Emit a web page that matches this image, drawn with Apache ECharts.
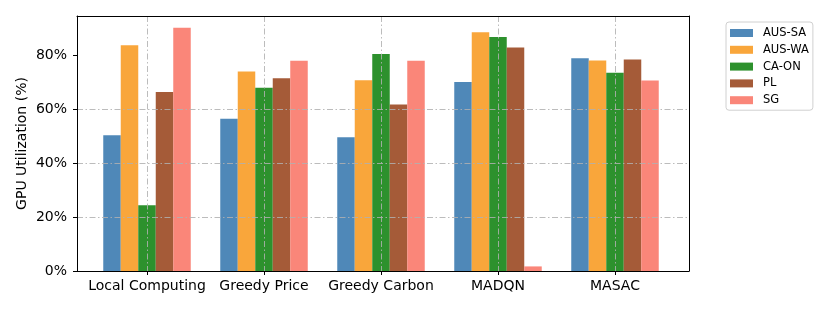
<!DOCTYPE html>
<html>
<head>
<meta charset="utf-8">
<script src="https://cdn.jsdelivr.net/npm/echarts@6/dist/echarts.min.js"></script>
<style>html,body{margin:0;padding:0;background:#fff}#c{width:830px;height:312px}</style>
</head>
<body>
<div id="c"></div>
<script>
const categories = ['Local Computing', 'Greedy Price', 'Greedy Carbon', 'MADQN', 'MASAC'];
const seriesNames = ['AUS-SA', 'AUS-WA', 'CA-ON', 'PL', 'SG'];
const ausSA = [50.3, 56.4, 49.6, 70.0, 78.8];
const ausWA = [83.7, 73.9, 70.7, 88.5, 78.0];
const caON  = [24.4, 67.9, 80.4, 86.7, 73.5];
const pl    = [66.3, 71.4, 61.7, 82.8, 78.4];
const sg    = [90.1, 77.9, 77.9, 1.7, 70.6];
const yTicks = [0, 20, 40, 60, 80];
const yMax = 94.5;

const colors = ['#4682b4', '#f9a130', '#228b22', '#a0522d', '#fa8072'];
const values = [ausSA, ausWA, caON, pl, sg];
const font = 'DejaVu Sans';
const dashStyle = {color: 'rgba(176,176,176,0.85)', width: 1, type: [6, 2.5, 1.5, 2.5]};

const chart = echarts.init(document.getElementById('c'), null, {renderer: 'canvas'});
chart.setOption({
  animation: false,
  backgroundColor: '#fff',
  textStyle: {fontFamily: font},
  grid: [
    {left: 88.5, top: 16, width: 585, height: 255, containLabel: false},
    {left: 77, top: 16, width: 612, height: 255, show: false}
  ],
  legend: {
    orient: 'vertical', left: 726, top: 22,
    data: seriesNames,
    icon: 'rect', itemWidth: 23, itemHeight: 8, itemGap: 4.8,
    padding: [5, 4, 4, 4],
    backgroundColor: '#fff', borderColor: '#d0d0d0', borderWidth: 1, borderRadius: 3,
    textStyle: {fontFamily: font, fontSize: 11.5, color: '#000', lineHeight: 12, padding: [0, 0, 0, 5]}
  },
  xAxis: [
    {
      type: 'category', gridIndex: 0, data: categories, z: 5,
      axisLine: {show: false},
      axisTick: {show: true, alignWithLabel: true, length: 4, lineStyle: {color: '#000'}},
      axisLabel: {fontFamily: font, fontSize: 14, color: '#000', margin: 8, interval: 0},
      splitLine: {show: true, alignWithLabel: true, interval: 0, lineStyle: dashStyle}
    },
    {type: 'value', gridIndex: 1, min: 0, max: 1, position: 'bottom', z: 6,
     axisLine: {show: true, onZero: false, lineStyle: {color: '#000', width: 1}},
     axisTick: {show: false}, axisLabel: {show: false}, splitLine: {show: false}},
    {type: 'value', gridIndex: 1, min: 0, max: 1, position: 'top', z: 6,
     axisLine: {show: true, onZero: false, lineStyle: {color: '#000', width: 1}},
     axisTick: {show: false}, axisLabel: {show: false}, splitLine: {show: false}}
  ],
  yAxis: [
    {type: 'value', gridIndex: 0, min: 0, max: yMax, show: false},
    {
      type: 'value', gridIndex: 1, min: 0, max: yMax, interval: 20, z: 6,
      axisLine: {show: true, onZero: false, lineStyle: {color: '#000', width: 1}},
      axisTick: {show: true, length: 4, lineStyle: {color: '#000'}, customValues: yTicks},
      axisLabel: {fontFamily: font, fontSize: 14, color: '#000', margin: 10, customValues: yTicks, formatter: v => v + '%'},
      splitLine: {show: true, showMinLine: false, showMaxLine: false, lineStyle: dashStyle},
      name: 'GPU Utilization (%)', nameLocation: 'middle', nameGap: 48, nameRotate: 90, nameMoveOverlap: false,
      nameTextStyle: {fontFamily: font, fontSize: 14, color: '#000'}
    },
    {type: 'value', gridIndex: 1, min: 0, max: yMax, position: 'right', z: 6,
     axisLine: {show: true, onZero: false, lineStyle: {color: '#000', width: 1}},
     axisTick: {show: false}, axisLabel: {show: false}, splitLine: {show: false}}
  ],
  series: seriesNames.map((n, i) => ({
    name: n, type: 'bar', xAxisIndex: 0, yAxisIndex: 0,
    data: values[i], barWidth: 17.5, barGap: '0%', z: 2,
    itemStyle: {color: colors[i], opacity: 0.95}
  }))
});
</script>
</body>
</html>
